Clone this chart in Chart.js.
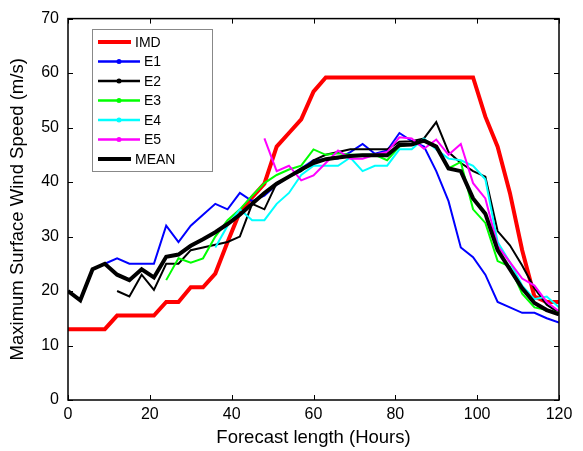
<!DOCTYPE html>
<html>
<head>
<meta charset="utf-8">
<script src="https://cdn.jsdelivr.net/npm/chart.js@4.4.1/dist/chart.umd.min.js"></script>
<style>
  html, body { margin: 0; padding: 0; background: #fff; }
  #wrap { width: 583px; height: 451px; }
</style>
</head>
<body>
<div id="wrap"><canvas id="windChart" width="583" height="451"></canvas></div>
<script>
// --- Data (3-hourly forecast steps) ---
const hours = [0, 3, 6, 9, 12, 15, 18, 21, 24, 27, 30, 33, 36, 39, 42, 45, 48, 51, 54, 57, 60,
               63, 66, 69, 72, 75, 78, 81, 84, 87, 90, 93, 96, 99, 102, 105, 108, 111, 114, 117, 120];

const imd = [13, 13, 13, 13, 15.5, 15.5, 15.5, 15.5, 18, 18, 20.7, 20.7, 23.2, 29, 34.5, 37.2, 39.7, 46.5, 49, 51.5, 56.6,
             59.2, 59.2, 59.2, 59.2, 59.2, 59.2, 59.2, 59.2, 59.2, 59.2, 59.2, 59.2, 59.2, 52, 46.5, 38, 27.5, 19, 18, 18];

const e1 = [20, 18.3, 24, 25, 26, 25, 25, 25, 32, 29, 32, 34, 36, 35, 38, 36.5, 37.5, 39.5, 41, 42.5, 44,
            44.2, 44.3, 45.5, 47, 45.2, 45.8, 49, 47.5, 46.5, 42, 36.5, 28, 26.2, 23, 18, 17, 16, 16, 15, 14.2];

const e2 = [null, null, null, null, 20, 19, 23, 20.2, 25, 25, 27.5, 28, 28.5, 29, 30, 36, 35, 39.8, 41, 42, 44,
            45, 45.5, 46, 46, 46, 46, 47.4, 47.5, 48, 51, 45.5, 43.5, 42, 41, 31, 28.4, 24.7, 20.5, 17.5, 16];

const e3 = [null, null, null, null, null, null, null, null, 22, 26, 25.2, 26, 30, 33, 35, 37.5, 39.8, 41.3, 42.3, 43, 46,
            45, 45.3, 45, 45, 45, 44, 46.5, 47, 47.5, 46.5, 42.5, 43.7, 35, 32.5, 25.5, 24.5, 19.5, 17, 16.5, 16];

const e4 = [null, null, null, null, null, null, null, null, null, null, null, null, 28, 32, 35, 33, 33, 36, 38, 41.3, 43,
            43, 43, 44.5, 42, 43, 43, 46, 46, 48, 46, 44.3, 44, 43, 40.5, 29, 25.3, 21, 18.5, 19, 17];

const e5 = [null, null, null, null, null, null, null, null, null, null, null, null, null, null, null, null, 48, 42, 43, 40.3, 41.2,
            43.5, 45.8, 44.3, 44.3, 45, 45.5, 48.2, 48, 46.1, 47.8, 45, 47, 39.8, 37, 28.3, 25.3, 22.3, 21, 18, 16.3];

const mean = [20, 18.3, 24, 25, 23, 22, 24, 22.5, 26.3, 26.7, 28.3, 29.5, 30.8, 32.3, 34, 36, 38, 39.7, 41, 42.3, 43.5,
              44.2, 44.5, 44.8, 44.9, 44.9, 44.9, 46.8, 46.9, 47.6, 46.5, 42.5, 42, 37, 34.2, 27.5, 24, 20.5, 17.8, 16.5, 15.7];

const xTickValues = [0, 20, 40, 60, 80, 100, 120];
const yTickValues = [0, 10, 20, 30, 40, 50, 60, 70];

const FONT = "'Liberation Sans', Arial, sans-serif";

// --- Series styling ---
const series = [
    { label: 'IMD',  values: imd,  color: '#ff0000', width: 4,   marker: false },
    { label: 'E1',   values: e1,   color: '#0000ff', width: 2,   marker: true },
    { label: 'E2',   values: e2,   color: '#000000', width: 2,   marker: true },
    { label: 'E3',   values: e3,   color: '#00ff00', width: 2,   marker: true },
    { label: 'E4',   values: e4,   color: '#00ffff', width: 2,   marker: true },
    { label: 'E5',   values: e5,   color: '#ff00ff', width: 2,   marker: true },
    { label: 'MEAN', values: mean, color: '#000000', width: 4,   marker: false }
];

const datasets = series.map((s, i) => ({
    label: s.label,
    data: hours.map((h, j) => ({ x: h, y: s.values[j] })),
    borderColor: s.color,
    backgroundColor: s.color,
    borderWidth: s.width,
    pointRadius: 0,
    tension: 0,
    spanGaps: false,
    order: series.length - i   // IMD at the bottom, MEAN on top
}));

// --- Plugins: MATLAB-style frame with inward ticks, and the boxed legend ---
const framePlugin = {
    id: 'frame',
    afterDatasetsDraw(chart) {
        const { ctx, chartArea: a, scales: { x, y } } = chart;
        const len = 5;
        ctx.save();
        ctx.strokeStyle = '#000';
        ctx.lineWidth = 1.5;
        ctx.strokeRect(a.left, a.top, a.right - a.left, a.bottom - a.top);
        ctx.lineWidth = 1;
        ctx.beginPath();
        xTickValues.forEach(v => {
            const px = Math.round(x.getPixelForValue(v)) + 0.5;
            ctx.moveTo(px, a.bottom); ctx.lineTo(px, a.bottom - len);
            ctx.moveTo(px, a.top); ctx.lineTo(px, a.top + len);
        });
        yTickValues.forEach(v => {
            const py = Math.round(y.getPixelForValue(v)) + 0.5;
            ctx.moveTo(a.left, py); ctx.lineTo(a.left + len, py);
            ctx.moveTo(a.right, py); ctx.lineTo(a.right - len, py);
        });
        ctx.stroke();
        ctx.restore();
    }
};

const legendPlugin = {
    id: 'boxLegend',
    afterDraw(chart) {
        const { ctx } = chart;
        const box = { left: 92, top: 29, width: 120, height: 142 };
        const rowGap = 19.5;
        ctx.save();
        ctx.fillStyle = '#fff';
        ctx.fillRect(box.left, box.top, box.width, box.height);
        ctx.strokeStyle = '#888';
        ctx.lineWidth = 1;
        ctx.strokeRect(box.left + 0.5, box.top + 0.5, box.width, box.height);
        ctx.font = '14px ' + FONT;
        ctx.textBaseline = 'middle';
        series.forEach((s, i) => {
            const yy = box.top + 13 + i * rowGap;
            const x0 = box.left + 6;
            const x1 = x0 + (s.marker ? 42 : 33);
            ctx.strokeStyle = s.color;
            ctx.lineWidth = s.marker ? 2.5 : 4;
            ctx.beginPath();
            ctx.moveTo(x0, yy); ctx.lineTo(x1, yy);
            ctx.stroke();
            if (s.marker) {
                ctx.fillStyle = s.color;
                ctx.beginPath();
                ctx.arc((x0 + x1) / 2, yy, 2.5, 0, Math.PI * 2);
                ctx.fill();
            }
            ctx.fillStyle = '#000';
            ctx.fillText(s.label, x1 + 4, yy + 1);
        });
        ctx.restore();
    }
};

new Chart(document.getElementById('windChart'), {
    type: 'line',
    data: { datasets },
    plugins: [framePlugin, legendPlugin],
    options: {
        responsive: false,
        animation: false,
        devicePixelRatio: 1,
        layout: { padding: { top: 13, right: 24, left: 0, bottom: 0 } },
        plugins: { legend: { display: false }, tooltip: { enabled: false } },
        scales: {
            x: {
                type: 'linear',
                min: 0,
                max: 120,
                afterBuildTicks: scale => { scale.ticks = xTickValues.map(v => ({ value: v })); },
                afterFit: scale => { scale.height = 51; },
                grid: { display: false, drawTicks: false },
                border: { display: false },
                ticks: { color: '#000', font: { family: FONT, size: 16 }, padding: 5, maxRotation: 0 },
                title: { display: true, text: 'Forecast length (Hours)', color: '#000',
                         font: { family: FONT, size: 18.5 }, padding: { top: 0, bottom: 2 } }
            },
            y: {
                min: 0,
                max: 70,
                afterBuildTicks: scale => { scale.ticks = yTickValues.map(v => ({ value: v })); },
                afterFit: scale => { scale.width = 68; },
                grid: { display: false, drawTicks: false },
                border: { display: false },
                ticks: { color: '#000', font: { family: FONT, size: 16 }, padding: 9 },
                title: { display: true, text: 'Maximum Surface Wind Speed (m/s)', color: '#000',
                         font: { family: FONT, size: 18.5 }, padding: { top: 7, bottom: 0 } }
            }
        }
    }
});
</script>
</body>
</html>
